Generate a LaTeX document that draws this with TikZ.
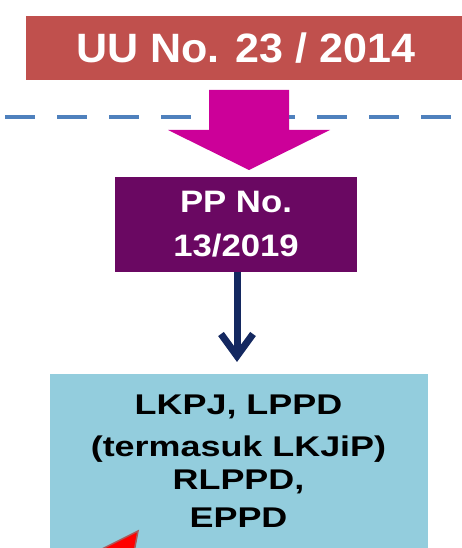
\documentclass[tikz,border=0pt]{standalone}
\usepackage{fontspec}
\setmainfont{Liberation Sans}
\newfontfamily\uufont[FakeStretch=1.05]{Liberation Sans}
\newfontfamily\ppfont[FakeStretch=1.12]{Liberation Sans}
\newfontfamily\lkfont[FakeStretch=1.26]{Liberation Sans}
\definecolor{uured}{RGB}{192,80,77}
\definecolor{dashblue}{RGB}{79,129,189}
\definecolor{magarrow}{RGB}{204,0,153}
\definecolor{ppurple}{RGB}{106,8,98}
\definecolor{lkblue}{RGB}{147,205,221}
\definecolor{navy}{RGB}{20,40,96}
\definecolor{redborder}{RGB}{170,90,90}
\begin{document}
\begin{tikzpicture}[x=1pt,y=-1pt,
  box/.style={rectangle, inner sep=0pt, align=center},
  navyline/.style={draw=navy, line width=7pt}
]
\useasboundingbox (0,0) rectangle (462,548);
\fill[white] (0,0) rectangle (462,548);
% top red box
\node[box, fill=uured, minimum width=440pt, minimum height=64pt, text=white,
      font=\uufont\bfseries\fontsize{41}{48}\selectfont] (uu) at (246,48) {UU No. 23 / 2014};
% dashed line
\coordinate (dl) at (5,117);
\coordinate (dr) at (470,117);
\draw[dashblue, line width=4.5pt, dash pattern=on 30pt off 22pt] (dl) -- (dr);
% purple box
\node[box, fill=ppurple, minimum width=242pt, minimum height=95pt, text=white,
      font=\ppfont\bfseries\fontsize{31}{44}\selectfont] (pp) at (236,224.5) {PP No.\\13/2019};
% magenta block arrow
\coordinate (m1) at (209,90);
\coordinate (m2) at (289,90);
\coordinate (m3) at (289,130);
\coordinate (m4) at (330,130);
\coordinate (mt) at (249,170);
\coordinate (m5) at (168,130);
\coordinate (m6) at (209,130);
\fill[magarrow] (m1) -- (m2) -- (m3) -- (m4) -- (mt) -- (m5) -- (m6) -- cycle;
% light blue box
\node[box, fill=lkblue, minimum width=378pt, minimum height=190pt, anchor=north] (lk) at (239,374) {};
\node[box, font=\lkfont\bfseries\fontsize{28.5}{38}\selectfont, anchor=north] (lktext) at (238.5,394.5)
  {LKPJ, LPPD\\[4pt](termasuk LKJiP)\\[-5pt]RLPPD,\\EPPD};
% navy arrow
\coordinate (nt) at (237,356);
\coordinate (na1) at (221,334);
\coordinate (na2) at (253,334);
\draw[navyline] (pp.south -| nt) -- (nt);
\draw[navyline, line join=miter] (na1) -- (nt) -- (na2);
% red arrow at bottom left
\coordinate (rt) at (138,531);
\coordinate (r1) at (96,552);
\coordinate (r2) at (134,552);
\filldraw[fill=red, draw=redborder, line width=1.5pt, line join=miter] (rt) -- (r1) -- (r2) -- cycle;
\end{tikzpicture}
\end{document}
